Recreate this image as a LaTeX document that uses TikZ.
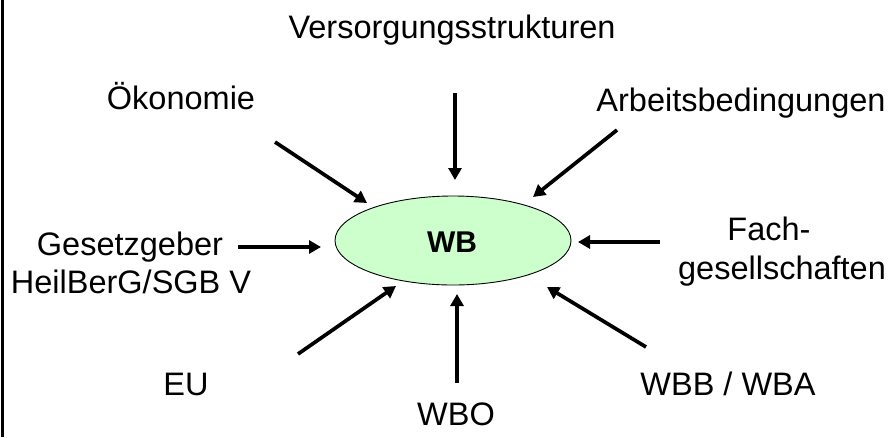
\documentclass[tikz,border=0pt]{standalone}
\usepackage{fontspec}
\setmainfont{Liberation Sans}
\usetikzlibrary{arrows.meta,shapes.geometric}
\definecolor{wbgreen}{RGB}{204,255,204}
\begin{document}
\begin{tikzpicture}[x=1pt,y=-1pt,
  lbl/.style={font=\fontsize{32.5}{37}\selectfont, inner sep=0pt, align=center},
  arr/.style={line width=3.7pt, -{Triangle[length=12pt,width=13pt]}},
]
\useasboundingbox (0,0) rectangle (888,437);
\draw[line width=3pt] (2,0) -- (2,437);

\node[draw=black, line width=0.9pt, fill=wbgreen, ellipse, minimum width=236pt, minimum height=89pt, inner sep=0pt] (wb) at (453,240.5) {};
\node[lbl, font=\fontsize{30}{36}\selectfont\bfseries] (wbt) at (452,242) {WB};

\node[lbl] (vs) at (452,30) {Versorgungsstrukturen};
\node[lbl] (oek) at (181,96) {Ökonomie};
\node[lbl] (ab) at (741,103) {Arbeitsbedingungen};
\node[lbl] (ges) at (130,247) {Gesetzgeber};
\node[lbl] (heil) at (131,282) {HeilBerG/SGB V};
\node[lbl] (fach) at (769,229) {Fach-};
\node[lbl] (gesell) at (782,271) {gesellschaften};
\node[lbl] (eu) at (186,384) {EU};
\node[lbl] (wbo) at (456,414) {WBO};
\node[lbl] (wbb) at (728,384) {WBB / WBA};

\coordinate (s1) at (455,93);  \coordinate (e1) at (455,180);
\coordinate (s2) at (275,142); \coordinate (e2) at (367,203);
\coordinate (s3) at (617,130); \coordinate (e3) at (533,197);
\coordinate (s4) at (238,247); \coordinate (e4) at (321,247);
\coordinate (s5) at (660,242); \coordinate (e5) at (578,242);
\coordinate (s6) at (298,354); \coordinate (e6) at (396,286);
\coordinate (s7) at (457,383); \coordinate (e7) at (457,294);
\coordinate (s8) at (646,347); \coordinate (e8) at (547,287);

\foreach \i in {1,...,8} { \draw[arr] (s\i) -- (e\i); }
\end{tikzpicture}
\end{document}
